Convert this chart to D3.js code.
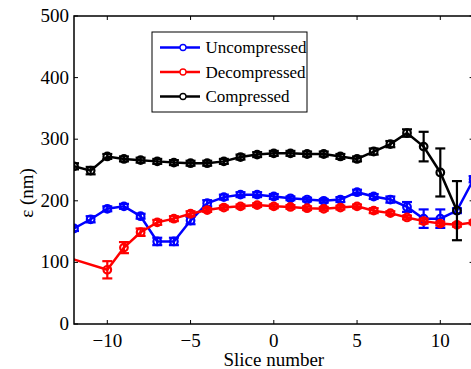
<!DOCTYPE html>
<html><head><meta charset="utf-8">
<script src="https://cdn.jsdelivr.net/npm/d3@7"></script>
<style>body{margin:0;background:#fff}svg{display:block}</style>
</head><body><svg id="c" width="471" height="369"></svg>
<script>
const slicesU = [-12,-11,-10,-9,-8,-7,-6,-5,-4,-3,-2,-1,0,1,2,3,4,5,6,7,8,9,10,11,12];
const uncompressed = [155,170,187,191,175,134,134,168,196,206,210,210,207,204,202,200,202,214,207,202,190,171,171,184,235];
const uncompressedErr = [4,5,4,4,4,6,6,6,5,4,4,4,4,3,3,3,4,4,4,5,8,15,15,4,5];

const slicesD = [-13,-10,-9,-8,-7,-6,-5,-4,-3,-2,-1,0,1,2,3,4,5,6,7,8,9,10,11,12];
const decompressed = [113,88,124,149,165,171,179,185,189,191,193,191,190,188,187,189,191,184,180,173,167,163,161,165];
const decompressedErr = [5,14,9,6,4,4,4,3,3,3,3,3,3,3,3,3,3,4,3,3,4,3,3,3];

const slicesC = [-12,-11,-10,-9,-8,-7,-6,-5,-4,-3,-2,-1,0,1,2,3,4,5,6,7,8,9,10,11];
const compressed = [256,249,272,268,266,264,262,261,261,264,271,275,277,277,276,276,272,268,280,292,310,288,246,184];
const compressedErr = [5,6,4,4,4,4,4,4,4,4,4,4,4,4,4,4,4,4,5,5,6,24,39,48];

const xTicks = [-10,-5,0,5,10];
const yTicks = [0,100,200,300,400,500];
const seriesNames = ["Uncompressed","Decompressed","Compressed"];
const colors = ["#0000ff","#ff0000","#000000"];
const FONT = "Liberation Serif, Times New Roman, Times, DejaVu Serif, serif";

const svg = d3.select("#c").attr("font-family", FONT);
const x = d3.scaleLinear().domain([-12,12]).range([74,473.6]);
const y = d3.scaleLinear().domain([0,500]).range([324,16]);

svg.append("defs").append("clipPath").attr("id","clip")
  .append("rect").attr("x",x(-12)).attr("y",y(500)).attr("width",x(12)-x(-12)).attr("height",y(0)-y(500));

const series = [
  {xs:slicesU, v:uncompressed, e:uncompressedErr, c:colors[0]},
  {xs:slicesD, v:decompressed, e:decompressedErr, c:colors[1]},
  {xs:slicesC, v:compressed, e:compressedErr, c:colors[2]}
];

const g = svg.append("g").attr("clip-path","url(#clip)");
const line = d3.line().x(d=>x(d[0])).y(d=>y(d[1]));
series.forEach(s=>{
  const pts = s.xs.map((xx,i)=>[xx,s.v[i],s.e[i]]);
  const sg = g.append("g");
  sg.append("path").datum(pts).attr("d",line).attr("fill","none").attr("stroke",s.c).attr("stroke-width",2.5);
  const eb = sg.selectAll(".eb").data(pts).enter().append("g");
  eb.append("line").attr("x1",d=>x(d[0])).attr("x2",d=>x(d[0])).attr("y1",d=>y(d[1]-d[2])).attr("y2",d=>y(d[1]+d[2])).attr("stroke",s.c).attr("stroke-width",2.2);
  [-1,1].forEach(k=>{
    eb.append("line").attr("x1",d=>x(d[0])-5).attr("x2",d=>x(d[0])+5).attr("y1",d=>y(d[1]+k*d[2])).attr("y2",d=>y(d[1]+k*d[2])).attr("stroke",s.c).attr("stroke-width",2.2);
  });
  sg.selectAll("circle").data(pts).enter().append("circle").attr("cx",d=>x(d[0])).attr("cy",d=>y(d[1])).attr("r",3.8)
    .attr("fill","none").attr("stroke",s.c).attr("stroke-width",2.2);
});

svg.append("rect").attr("x",x(-12)).attr("y",y(500)).attr("width",x(12)-x(-12)).attr("height",y(0)-y(500))
  .attr("fill","none").attr("stroke","#000").attr("stroke-width",1.5);

const ax = svg.append("g");
xTicks.forEach(t=>{
  ax.append("line").attr("x1",x(t)).attr("x2",x(t)).attr("y1",y(0)).attr("y2",y(0)-4).attr("stroke","#000").attr("stroke-width",1);
  ax.append("line").attr("x1",x(t)).attr("x2",x(t)).attr("y1",y(500)).attr("y2",y(500)+4).attr("stroke","#000").attr("stroke-width",1);
  ax.append("text").attr("font-family",FONT).attr("x",x(t)).attr("y",y(0)+23).attr("text-anchor","middle").attr("font-size",19)
    .text(t<0? "\u2212"+Math.abs(t) : String(t));
});
yTicks.forEach(t=>{
  ax.append("line").attr("x1",x(-12)).attr("x2",x(-12)+4).attr("y1",y(t)).attr("y2",y(t)).attr("stroke","#000").attr("stroke-width",1);
  ax.append("line").attr("x1",x(12)).attr("x2",x(12)-4).attr("y1",y(t)).attr("y2",y(t)).attr("stroke","#000").attr("stroke-width",1);
  ax.append("text").attr("font-family",FONT).attr("x",x(-12)-5).attr("y",y(t)+6).attr("text-anchor","end").attr("font-size",19).text(t);
});
svg.append("text").attr("font-family",FONT).attr("x",x(0)).attr("y",366).attr("text-anchor","middle").attr("font-size",19).text("Slice number");
svg.append("text").attr("font-family",FONT).attr("transform","translate(33,193) rotate(-90)").attr("text-anchor","middle").attr("font-size",19).text("\u03b5 (nm)");

const lg = svg.append("g");
lg.append("rect").attr("x",152).attr("y",32).attr("width",155).attr("height",80).attr("fill","#fff").attr("stroke","#000").attr("stroke-width",1);
seriesNames.forEach((n,i)=>{
  const yy = 47.5 + i*24.5;
  lg.append("line").attr("x1",160).attr("x2",200).attr("y1",yy).attr("y2",yy).attr("stroke",colors[i]).attr("stroke-width",2.5);
  lg.append("circle").attr("cx",183).attr("cy",yy).attr("r",3).attr("fill","#fff").attr("stroke",colors[i]).attr("stroke-width",1.3);
  lg.append("text").attr("font-family",FONT).attr("x",205.5).attr("y",yy+5.5).attr("font-size",17).text(n);
});
</script></body></html>
